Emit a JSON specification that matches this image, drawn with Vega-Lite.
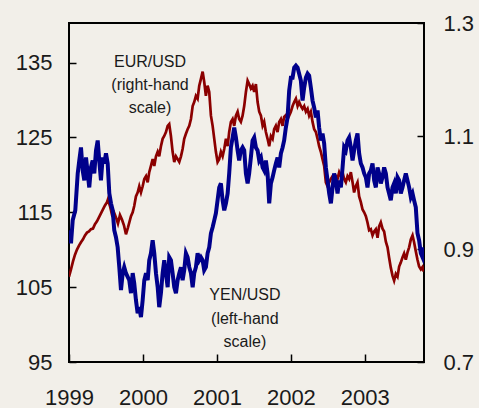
{
"$schema": "https://vega.github.io/schema/vega-lite/v6.json",
"width": 355,
"height": 339,
"autosize": "none",
"padding": {"left": 69, "top": 23, "right": 55, "bottom": 46},
"background": "#f2efe9",
"config": {
  "view": {"stroke": "#000000", "strokeWidth": 2, "fill": null},
  "axis": {"domain": false, "grid": false, "labelFont": "Liberation Sans", "labelFontSize": 22, "labelColor": "#1a1a1a", "tickColor": "#000000", "tickWidth": 1.5, "labelFlush": false, "labelOverlap": false}
},
"datasets": {
"yen": [{"t":1999.000,"v":112.6},{"t":1999.027,"v":110.87},{"t":1999.050,"v":113.93},{"t":1999.085,"v":115.27},{"t":1999.118,"v":120.2},{"t":1999.139,"v":121.93},{"t":1999.162,"v":123.67},{"t":1999.185,"v":120.6},{"t":1999.207,"v":119.27},{"t":1999.230,"v":122.33},{"t":1999.253,"v":120.2},{"t":1999.274,"v":118.33},{"t":1999.297,"v":121.0},{"t":1999.320,"v":121.93},{"t":1999.342,"v":120.2},{"t":1999.365,"v":123.27},{"t":1999.388,"v":124.6},{"t":1999.409,"v":121.93},{"t":1999.432,"v":119.27},{"t":1999.455,"v":122.33},{"t":1999.477,"v":121.53},{"t":1999.5,"v":122.87},{"t":1999.523,"v":121.53},{"t":1999.545,"v":117.53},{"t":1999.568,"v":116.2},{"t":1999.591,"v":115.27},{"t":1999.612,"v":112.6},{"t":1999.635,"v":111.67},{"t":1999.658,"v":110.33},{"t":1999.680,"v":107.67},{"t":1999.703,"v":104.6},{"t":1999.726,"v":106.87},{"t":1999.747,"v":107.67},{"t":1999.770,"v":106.87},{"t":1999.815,"v":105.93},{"t":1999.838,"v":104.2},{"t":1999.861,"v":106.87},{"t":1999.882,"v":105.53},{"t":1999.905,"v":103.27},{"t":1999.928,"v":101.53},{"t":1999.950,"v":102.33},{"t":1999.973,"v":101.0},{"t":1999.996,"v":103.27},{"t":2000.018,"v":105.93},{"t":2000.041,"v":106.87},{"t":2000.064,"v":105.93},{"t":2000.085,"v":108.6},{"t":2000.108,"v":109.53},{"t":2000.131,"v":111.27},{"t":2000.153,"v":109.53},{"t":2000.176,"v":106.87},{"t":2000.199,"v":105.0},{"t":2000.220,"v":102.33},{"t":2000.243,"v":104.2},{"t":2000.266,"v":106.87},{"t":2000.288,"v":108.6},{"t":2000.311,"v":106.87},{"t":2000.334,"v":105.0},{"t":2000.355,"v":109.0},{"t":2000.378,"v":108.6},{"t":2000.401,"v":106.87},{"t":2000.423,"v":105.0},{"t":2000.446,"v":104.2},{"t":2000.469,"v":105.93},{"t":2000.491,"v":106.87},{"t":2000.514,"v":107.67},{"t":2000.536,"v":105.93},{"t":2000.558,"v":107.27},{"t":2000.581,"v":109.53},{"t":2000.604,"v":109.0},{"t":2000.626,"v":107.67},{"t":2000.649,"v":106.87},{"t":2000.672,"v":105.0},{"t":2000.693,"v":106.87},{"t":2000.716,"v":107.67},{"t":2000.739,"v":109.53},{"t":2000.761,"v":108.6},{"t":2000.784,"v":109.0},{"t":2000.807,"v":108.6},{"t":2000.828,"v":107.27},{"t":2000.851,"v":107.67},{"t":2000.874,"v":109.53},{"t":2000.896,"v":110.33},{"t":2000.919,"v":112.2},{"t":2000.942,"v":113.0},{"t":2000.964,"v":113.93},{"t":2000.986,"v":114.87},{"t":2001.009,"v":116.6},{"t":2001.031,"v":118.33},{"t":2001.054,"v":118.87},{"t":2001.077,"v":116.6},{"t":2001.099,"v":115.27},{"t":2001.122,"v":116.2},{"t":2001.145,"v":117.53},{"t":2001.166,"v":120.2},{"t":2001.189,"v":123.67},{"t":2001.212,"v":125.0},{"t":2001.234,"v":126.33},{"t":2001.257,"v":125.0},{"t":2001.280,"v":123.27},{"t":2001.301,"v":121.93},{"t":2001.324,"v":123.27},{"t":2001.347,"v":123.67},{"t":2001.369,"v":123.27},{"t":2001.392,"v":120.2},{"t":2001.415,"v":118.87},{"t":2001.436,"v":120.2},{"t":2001.459,"v":122.33},{"t":2001.482,"v":124.6},{"t":2001.504,"v":125.0},{"t":2001.527,"v":123.67},{"t":2001.550,"v":123.27},{"t":2001.572,"v":121.93},{"t":2001.595,"v":122.33},{"t":2001.618,"v":121.0},{"t":2001.639,"v":120.6},{"t":2001.662,"v":121.93},{"t":2001.685,"v":120.2},{"t":2001.707,"v":116.2},{"t":2001.730,"v":118.87},{"t":2001.753,"v":119.67},{"t":2001.774,"v":120.6},{"t":2001.797,"v":121.53},{"t":2001.820,"v":122.33},{"t":2001.842,"v":121.0},{"t":2001.865,"v":122.87},{"t":2001.888,"v":123.67},{"t":2001.909,"v":124.6},{"t":2001.932,"v":126.33},{"t":2001.955,"v":127.67},{"t":2001.977,"v":131.27},{"t":2002.0,"v":133.0},{"t":2002.023,"v":133.0},{"t":2002.045,"v":134.33},{"t":2002.068,"v":134.6},{"t":2002.091,"v":134.33},{"t":2002.112,"v":133.53},{"t":2002.135,"v":132.6},{"t":2002.158,"v":129.93},{"t":2002.180,"v":131.67},{"t":2002.203,"v":133.0},{"t":2002.226,"v":133.53},{"t":2002.247,"v":133.27},{"t":2002.270,"v":131.67},{"t":2002.293,"v":129.93},{"t":2002.315,"v":129.0},{"t":2002.338,"v":127.67},{"t":2002.361,"v":128.6},{"t":2002.382,"v":126.33},{"t":2002.405,"v":124.6},{"t":2002.428,"v":125.53},{"t":2002.450,"v":124.2},{"t":2002.473,"v":121.0},{"t":2002.496,"v":119.27},{"t":2002.518,"v":117.53},{"t":2002.541,"v":116.2},{"t":2002.564,"v":118.33},{"t":2002.585,"v":120.2},{"t":2002.608,"v":119.27},{"t":2002.631,"v":117.53},{"t":2002.653,"v":119.27},{"t":2002.676,"v":118.33},{"t":2002.699,"v":121.0},{"t":2002.720,"v":123.67},{"t":2002.743,"v":123.27},{"t":2002.766,"v":124.6},{"t":2002.788,"v":125.0},{"t":2002.811,"v":123.67},{"t":2002.834,"v":121.93},{"t":2002.855,"v":123.27},{"t":2002.878,"v":124.6},{"t":2002.901,"v":125.53},{"t":2002.923,"v":122.87},{"t":2002.946,"v":121.53},{"t":2002.969,"v":121.0},{"t":2002.991,"v":120.2},{"t":2003.014,"v":119.67},{"t":2003.036,"v":118.33},{"t":2003.058,"v":120.2},{"t":2003.081,"v":120.6},{"t":2003.104,"v":121.53},{"t":2003.126,"v":119.27},{"t":2003.149,"v":118.33},{"t":2003.172,"v":121.0},{"t":2003.193,"v":120.2},{"t":2003.216,"v":118.87},{"t":2003.239,"v":119.67},{"t":2003.261,"v":121.0},{"t":2003.284,"v":120.2},{"t":2003.307,"v":118.33},{"t":2003.328,"v":117.53},{"t":2003.351,"v":116.6},{"t":2003.374,"v":118.33},{"t":2003.396,"v":118.87},{"t":2003.419,"v":117.53},{"t":2003.442,"v":119.67},{"t":2003.464,"v":119.27},{"t":2003.486,"v":117.53},{"t":2003.509,"v":118.33},{"t":2003.531,"v":119.27},{"t":2003.554,"v":120.2},{"t":2003.577,"v":119.27},{"t":2003.599,"v":118.33},{"t":2003.622,"v":117.0},{"t":2003.645,"v":117.53},{"t":2003.666,"v":116.6},{"t":2003.689,"v":115.67},{"t":2003.712,"v":112.2},{"t":2003.734,"v":111.27},{"t":2003.757,"v":109.53},{"t":2003.780,"v":109.0},{"t":2003.797,"v":110.33}],
"eur": [{"t":1999.000,"v":0.851},{"t":1999.027,"v":0.864},{"t":1999.054,"v":0.878},{"t":1999.081,"v":0.890},{"t":1999.108,"v":0.899},{"t":1999.135,"v":0.906},{"t":1999.162,"v":0.912},{"t":1999.189,"v":0.917},{"t":1999.216,"v":0.924},{"t":1999.243,"v":0.929},{"t":1999.270,"v":0.931},{"t":1999.297,"v":0.935},{"t":1999.324,"v":0.936},{"t":1999.351,"v":0.944},{"t":1999.378,"v":0.949},{"t":1999.405,"v":0.956},{"t":1999.432,"v":0.963},{"t":1999.459,"v":0.970},{"t":1999.486,"v":0.977},{"t":1999.514,"v":0.983},{"t":1999.527,"v":0.988},{"t":1999.554,"v":0.976},{"t":1999.581,"v":0.961},{"t":1999.608,"v":0.965},{"t":1999.635,"v":0.956},{"t":1999.662,"v":0.945},{"t":1999.689,"v":0.960},{"t":1999.716,"v":0.952},{"t":1999.743,"v":0.942},{"t":1999.770,"v":0.926},{"t":1999.797,"v":0.938},{"t":1999.838,"v":0.958},{"t":1999.861,"v":0.965},{"t":1999.882,"v":0.976},{"t":1999.905,"v":0.993},{"t":1999.928,"v":1.000},{"t":1999.950,"v":1.011},{"t":1999.973,"v":1.000},{"t":1999.996,"v":1.011},{"t":2000.018,"v":1.024},{"t":2000.041,"v":1.029},{"t":2000.064,"v":1.018},{"t":2000.085,"v":1.036},{"t":2000.108,"v":1.047},{"t":2000.131,"v":1.059},{"t":2000.153,"v":1.047},{"t":2000.176,"v":1.064},{"t":2000.199,"v":1.072},{"t":2000.220,"v":1.064},{"t":2000.243,"v":1.082},{"t":2000.266,"v":1.095},{"t":2000.288,"v":1.100},{"t":2000.311,"v":1.107},{"t":2000.334,"v":1.118},{"t":2000.355,"v":1.121},{"t":2000.378,"v":1.100},{"t":2000.401,"v":1.072},{"t":2000.423,"v":1.054},{"t":2000.446,"v":1.064},{"t":2000.469,"v":1.059},{"t":2000.491,"v":1.054},{"t":2000.514,"v":1.064},{"t":2000.536,"v":1.077},{"t":2000.558,"v":1.095},{"t":2000.581,"v":1.104},{"t":2000.604,"v":1.112},{"t":2000.626,"v":1.118},{"t":2000.649,"v":1.130},{"t":2000.672,"v":1.153},{"t":2000.693,"v":1.160},{"t":2000.716,"v":1.171},{"t":2000.739,"v":1.166},{"t":2000.761,"v":1.189},{"t":2000.784,"v":1.201},{"t":2000.807,"v":1.214},{"t":2000.828,"v":1.196},{"t":2000.851,"v":1.171},{"t":2000.874,"v":1.189},{"t":2000.896,"v":1.178},{"t":2000.919,"v":1.136},{"t":2000.942,"v":1.118},{"t":2000.964,"v":1.095},{"t":2000.986,"v":1.072},{"t":2001.009,"v":1.054},{"t":2001.031,"v":1.059},{"t":2001.054,"v":1.072},{"t":2001.077,"v":1.064},{"t":2001.099,"v":1.077},{"t":2001.122,"v":1.095},{"t":2001.145,"v":1.082},{"t":2001.166,"v":1.107},{"t":2001.189,"v":1.125},{"t":2001.212,"v":1.130},{"t":2001.234,"v":1.118},{"t":2001.257,"v":1.136},{"t":2001.280,"v":1.143},{"t":2001.301,"v":1.130},{"t":2001.324,"v":1.125},{"t":2001.347,"v":1.136},{"t":2001.369,"v":1.153},{"t":2001.392,"v":1.178},{"t":2001.415,"v":1.198},{"t":2001.436,"v":1.192},{"t":2001.459,"v":1.184},{"t":2001.482,"v":1.189},{"t":2001.504,"v":1.178},{"t":2001.527,"v":1.192},{"t":2001.550,"v":1.160},{"t":2001.572,"v":1.143},{"t":2001.595,"v":1.136},{"t":2001.618,"v":1.118},{"t":2001.639,"v":1.125},{"t":2001.662,"v":1.107},{"t":2001.685,"v":1.095},{"t":2001.707,"v":1.082},{"t":2001.730,"v":1.100},{"t":2001.753,"v":1.095},{"t":2001.774,"v":1.112},{"t":2001.797,"v":1.118},{"t":2001.820,"v":1.107},{"t":2001.842,"v":1.125},{"t":2001.865,"v":1.130},{"t":2001.888,"v":1.118},{"t":2001.909,"v":1.134},{"t":2001.932,"v":1.137},{"t":2001.955,"v":1.130},{"t":2001.977,"v":1.136},{"t":2002.0,"v":1.143},{"t":2002.023,"v":1.153},{"t":2002.045,"v":1.160},{"t":2002.068,"v":1.166},{"t":2002.091,"v":1.153},{"t":2002.112,"v":1.160},{"t":2002.135,"v":1.153},{"t":2002.158,"v":1.148},{"t":2002.180,"v":1.153},{"t":2002.203,"v":1.143},{"t":2002.226,"v":1.148},{"t":2002.247,"v":1.136},{"t":2002.270,"v":1.143},{"t":2002.293,"v":1.125},{"t":2002.315,"v":1.112},{"t":2002.338,"v":1.107},{"t":2002.361,"v":1.095},{"t":2002.382,"v":1.082},{"t":2002.405,"v":1.072},{"t":2002.428,"v":1.059},{"t":2002.450,"v":1.047},{"t":2002.473,"v":1.018},{"t":2002.496,"v":1.011},{"t":2002.518,"v":1.018},{"t":2002.541,"v":1.024},{"t":2002.564,"v":1.029},{"t":2002.585,"v":1.024},{"t":2002.608,"v":1.029},{"t":2002.631,"v":1.024},{"t":2002.653,"v":1.036},{"t":2002.676,"v":1.029},{"t":2002.699,"v":1.036},{"t":2002.720,"v":1.024},{"t":2002.743,"v":1.018},{"t":2002.766,"v":1.029},{"t":2002.788,"v":1.024},{"t":2002.811,"v":1.036},{"t":2002.834,"v":1.018},{"t":2002.855,"v":1.000},{"t":2002.878,"v":1.011},{"t":2002.901,"v":1.018},{"t":2002.923,"v":0.993},{"t":2002.946,"v":0.983},{"t":2002.969,"v":0.970},{"t":2002.991,"v":0.965},{"t":2003.014,"v":0.958},{"t":2003.036,"v":0.947},{"t":2003.058,"v":0.933},{"t":2003.081,"v":0.935},{"t":2003.104,"v":0.924},{"t":2003.126,"v":0.931},{"t":2003.149,"v":0.935},{"t":2003.172,"v":0.920},{"t":2003.193,"v":0.940},{"t":2003.216,"v":0.947},{"t":2003.239,"v":0.936},{"t":2003.261,"v":0.931},{"t":2003.284,"v":0.913},{"t":2003.307,"v":0.903},{"t":2003.328,"v":0.885},{"t":2003.351,"v":0.867},{"t":2003.374,"v":0.853},{"t":2003.396,"v":0.844},{"t":2003.419,"v":0.856},{"t":2003.442,"v":0.851},{"t":2003.464,"v":0.869},{"t":2003.486,"v":0.876},{"t":2003.509,"v":0.885},{"t":2003.531,"v":0.892},{"t":2003.554,"v":0.881},{"t":2003.577,"v":0.894},{"t":2003.599,"v":0.903},{"t":2003.622,"v":0.917},{"t":2003.645,"v":0.924},{"t":2003.666,"v":0.912},{"t":2003.689,"v":0.896},{"t":2003.712,"v":0.881},{"t":2003.734,"v":0.869},{"t":2003.757,"v":0.864},{"t":2003.780,"v":0.868},{"t":2003.797,"v":0.860}],
"lab": [{"t":2000.095,"v":135.13,"label":"EUR/USD"},{"t":2000.095,"v":132.07,"label":"(right-hand"},{"t":2000.095,"v":129.0,"label":"scale)"},{"t":2001.378,"v":103.93,"label":"YEN/USD"},{"t":2001.378,"v":100.73,"label":"(left-hand"},{"t":2001.378,"v":97.67,"label":"scale)"}]
},
"layer": [
  {
    "data": {"name": "eur"},
    "mark": {"type": "line", "color": "#8b0000", "strokeWidth": 2.7, "clip": true},
    "encoding": {
      "x": {"field": "t", "type": "quantitative", "title": null, "scale": {"domain": [1999, 2003.8], "nice": false, "zero": false}, "axis": {"values": [1999, 2000, 2001, 2002, 2003], "format": "d", "tickSize": -8, "labelPadding": 33}},
      "y": {"field": "v", "type": "quantitative", "title": null, "scale": {"domain": [0.7, 1.3], "nice": false, "zero": false}, "axis": {"orient": "right", "values": [0.7, 0.9, 1.1, 1.3], "format": ".1f", "tickSize": -7, "labelPadding": 26}}
    }
  },
  {
    "layer": [
      {
        "data": {"name": "yen"},
        "mark": {"type": "line", "color": "#00008b", "strokeWidth": 4, "clip": true},
        "encoding": {
          "x": {"field": "t", "type": "quantitative", "title": null, "scale": {"domain": [1999, 2003.8], "nice": false, "zero": false}, "axis": {"values": [1999, 2000, 2001, 2002, 2003], "format": "d", "tickSize": -8, "labelPadding": 33}},
          "y": {"field": "v", "type": "quantitative", "title": null, "scale": {"domain": [95, 140.3], "nice": false, "zero": false}, "axis": {"orient": "left", "values": [95, 105, 115, 125, 135], "tickSize": -7, "labelPadding": 24}}
        }
      },
      {
        "data": {"name": "lab"},
        "mark": {"type": "text", "font": "Liberation Sans", "fontSize": 16, "color": "#1a1a1a", "align": "center", "baseline": "middle"},
        "encoding": {
          "x": {"field": "t", "type": "quantitative", "title": null, "scale": {"domain": [1999, 2003.8], "nice": false, "zero": false}, "axis": {"values": [1999, 2000, 2001, 2002, 2003], "format": "d", "tickSize": -8, "labelPadding": 33}},
          "y": {"field": "v", "type": "quantitative", "title": null, "scale": {"domain": [95, 140.3], "nice": false, "zero": false}, "axis": {"orient": "left", "values": [95, 105, 115, 125, 135], "tickSize": -7, "labelPadding": 24}},
          "text": {"field": "label"}
        }
      }
    ]
  }
],
"resolve": {"scale": {"y": "independent"}}
}
